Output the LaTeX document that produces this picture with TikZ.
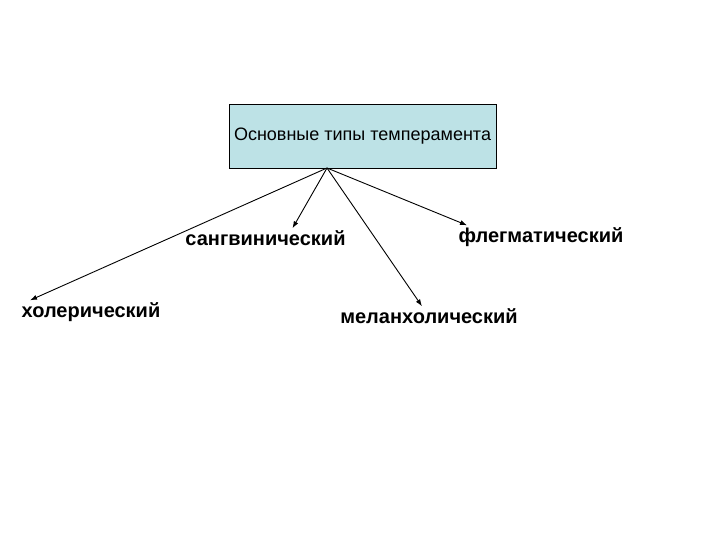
\documentclass[tikz,border=0pt]{standalone}
\usepackage{fontspec}
\setmainfont{Liberation Sans}
\usetikzlibrary{arrows.meta}
\definecolor{boxfill}{RGB}{189,226,230}
\tikzset{
  hdr/.style = {rectangle, draw=black, fill=boxfill, minimum width=267pt,
                minimum height=64pt, inner sep=0pt, font=\fontsize{18}{21}\selectfont},
  lbl/.style = {inner sep=1pt, font=\bfseries\fontsize{20}{24}\selectfont},
  fl/.style  = {-{Latex[length=7pt,width=5pt]}, line width=0.9pt},
}
\begin{document}
\begin{tikzpicture}[x=1pt,y=-1pt]
  \useasboundingbox (0,0) rectangle (720,540);
  \node[hdr] (typ) at (362.5,136) {Основные типы темперамента};
  \coordinate (src) at (327,168);
  \node[lbl] (san) at (265.5,238) {сангвинический};
  \node[lbl] (fle) at (541,237) {флегматический};
  \node[lbl] (xol) at (91,312) {холерический};
  \node[lbl] (mel) at (429,316) {меланхолический};
  \draw[fl] (src) -- ([xshift=27pt,yshift=1pt]san.north);
  \draw[fl] (src) -- ([xshift=-74pt,yshift=1pt]fle.north);
  \draw[fl] (src) -- ([xshift=-61pt,yshift=1pt]xol.north);
  \draw[fl] (src) -- ([xshift=-7pt,yshift=1pt]mel.north);
\end{tikzpicture}
\end{document}
